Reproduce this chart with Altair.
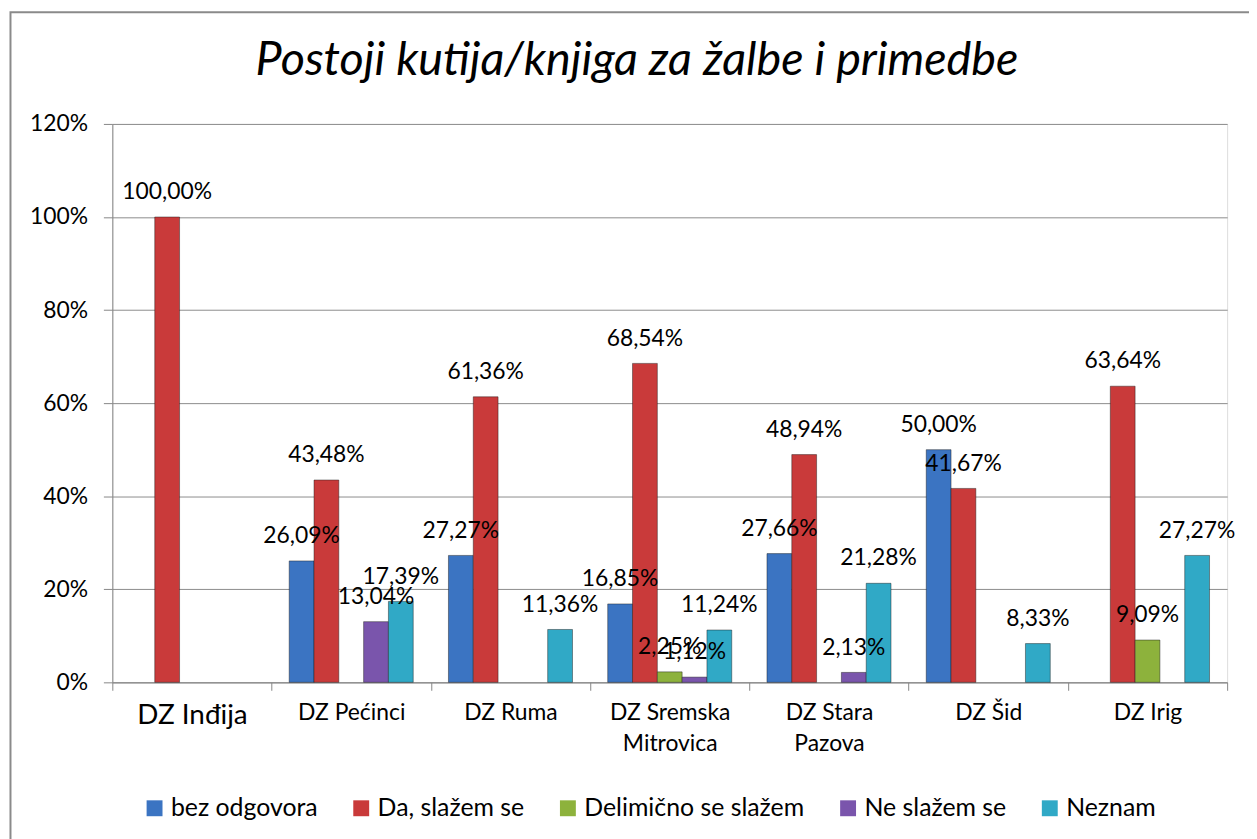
import altair as alt
import pandas as pd

title_text = "Postoji kutija/knjiga za žalbe i primedbe"
categories = ["DZ Inđija", "DZ Pećinci", "DZ Ruma", "DZ Sremska Mitrovica",
              "DZ Stara Pazova", "DZ Šid", "DZ Irig"]
category_lines = [["DZ Inđija"], ["DZ Pećinci"], ["DZ Ruma"],
                  ["DZ Sremska", "Mitrovica"], ["DZ Stara", "Pazova"],
                  ["DZ Šid"], ["DZ Irig"]]
series = ["bez odgovora", "Da, slažem se", "Delimično se slažem",
          "Ne slažem se", "Neznam"]
colors = ["#3B74C2", "#C93A3A", "#8DB23C", "#7A55AC", "#30A9C6"]

bez_odgovora = [None, 26.09, 27.27, 16.85, 27.66, 50.00, None]
da_slazem = [100.00, 43.48, 61.36, 68.54, 48.94, 41.67, 63.64]
delimicno = [None, None, None, 2.25, None, None, 9.09]
ne_slazem = [None, 13.04, None, 1.12, 2.13, None, None]
neznam = [None, 17.39, 11.36, 11.24, 21.28, 8.33, 27.27]
y_ticks = [0, 20, 40, 60, 80, 100, 120]

all_values = [bez_odgovora, da_slazem, delimicno, ne_slazem, neznam]
rows = []
for s, vals in zip(series, all_values):
    for c, v in zip(categories, vals):
        if v is not None:
            rows.append({"category": c, "series": s, "value": v,
                         "label": f"{v:.2f}".replace(".", ",") + "%"})
df = pd.DataFrame(rows)

FONT = "Lato"

label_expr_parts = []
for c, lines in zip(categories, category_lines):
    if len(lines) > 1:
        arr = "[" + ", ".join("'" + l + "'" for l in lines) + "]"
        label_expr_parts.append((c, arr))
label_expr = "datum.value"
for c, arr in reversed(label_expr_parts):
    label_expr = f"datum.value == '{c}' ? {arr} : ({label_expr})"

x_enc = alt.X(
    "category:N", sort=categories,
    scale=alt.Scale(domain=categories, paddingInner=0, paddingOuter=0),
    axis=alt.Axis(
        title=None, labelAngle=0, labelExpr=label_expr,
        labelFontSize={"condition": {"test": f"datum.value == '{categories[0]}'", "value": 28}, "value": 23},
        labelFont=FONT, labelColor="#000000", labelLineHeight=32,
        labelPadding=11, tickBand="extent", tickSize=8, tickColor="#868686",
        domainColor="#868686", labelBaseline="top", grid=False,
    ),
)
xoff_enc = alt.XOffset(
    "series:N", sort=series,
    scale=alt.Scale(domain=series, paddingInner=0, paddingOuter=0.71),
)
y_enc = alt.Y(
    "value:Q",
    scale=alt.Scale(domain=[0, 120], nice=False),
    axis=alt.Axis(
        title=None, values=y_ticks, labelExpr="datum.value + '%'",
        labelFont=FONT, labelFontSize=23, labelColor="#000000",
        labelPadding=16, tickSize=9, tickColor="#868686",
        domainColor="#868686", gridColor="#8c8c8c", gridWidth=1,
    ),
)

bars = alt.Chart(df).mark_bar(stroke="#1a1a1a", strokeOpacity=0.45, strokeWidth=1).encode(
    x=x_enc, xOffset=xoff_enc, y=y_enc,
    color=alt.Color(
        "series:N", sort=series,
        scale=alt.Scale(domain=series, range=colors),
        legend=alt.Legend(
            title=None, orient="none", legendX=30, legendY=676,
            direction="horizontal", columns=5, columnPadding=31,
            symbolType="square", symbolSize=256, symbolStrokeWidth=0,
            labelFont=FONT, labelFontSize=25, labelColor="#000000",
            labelOffset=4, labelLimit=400,
        ),
    ),
)

labels = alt.Chart(df).mark_text(
    dy=-18, baseline="alphabetic", align="center",
    font=FONT, fontSize=23, color="#000000",
).encode(x=x_enc, xOffset=xoff_enc, y=y_enc, text="label:N")

frame = alt.Chart(pd.DataFrame({"k": [0]})).mark_rect(
    fillOpacity=0, stroke="#8a8a8a", strokeWidth=2,
).encode(x=alt.value(-102.5), x2=alt.value(1160), y=alt.value(-112.5), y2=alt.value(800))

chart = alt.layer(frame, bars, labels).properties(
    width=1122, height=562,
    autosize=alt.AutoSizeParams(type="none"),
    padding={"left": 105, "top": 114, "right": 22, "bottom": 155},
    title=alt.TitleParams(
        title_text, font=FONT, fontSize=47, fontStyle="italic",
        fontWeight="normal", color="#000000", anchor="middle",
        frame="group", baseline="alphabetic", offset=-111, dx=-33,
    ),
).configure_view(stroke=None).configure(background="#ffffff")

chart.save("out.html", embed_options={"renderer": "svg", "actions": False})
